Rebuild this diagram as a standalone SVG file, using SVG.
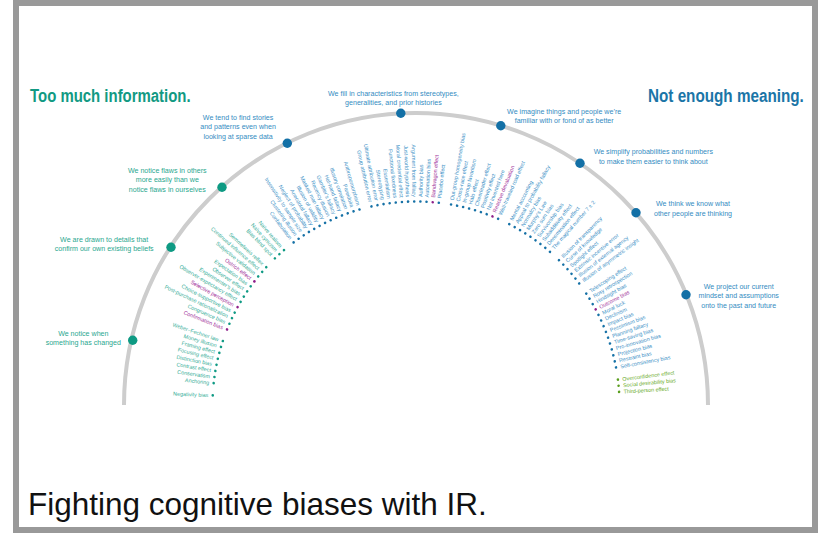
<svg xmlns="http://www.w3.org/2000/svg" width="818" height="533" viewBox="0 0 818 533">
<style>
text{font-family:"Liberation Sans",Arial,sans-serif}
.title{font-weight:bold;font-size:18.5px}
.nl{font-size:7.1px;text-anchor:middle}
.nl.t{fill:#2aa78f}
.nl.b{fill:#348cc2}
.bias text{font-size:5.4px}
.L text{text-anchor:end}
.tl text{fill:#35ad97}.tl circle{fill:#0f9a84}
.bl text{fill:#3c90c6}.bl circle{fill:#1671a6}
.pu text{fill:#a3349c}.pu circle{fill:#8e1f8a}
.gr text{fill:#6aab2b}.gr circle{fill:#5a9e1e}
.nt{fill:#0e9a83}.nb{fill:#1370a6}
</style>
<rect x="16" y="3" width="799" height="527" fill="#fff" stroke="#999" stroke-width="6"/>
<g id="connectors">
<path d="M124 405 A292 292 0 0 1 708 405" fill="none" stroke="#cdcdcd" stroke-width="4"/>
</g>
<g id="titles">
<text class="title" transform="translate(30 102) scale(0.808 1)" fill="#129a83">Too much information.</text>
<text class="title" transform="translate(648 102) scale(0.825 1)" fill="#1b75a7">Not enough meaning.</text>
</g>
<g id="n1"><circle class="nt" cx="132.7" cy="340.3" r="4.7"/><text class="nl t" x="83.3" y="335.8">We notice when</text><text class="nl t" x="83.3" y="344.8">something has changed</text></g>
<g id="n2"><circle class="nt" cx="171" cy="247.3" r="4.7"/><text class="nl t" x="104.2" y="241.8">We are drawn to details that</text><text class="nl t" x="104.2" y="250.8">confirm our own existing beliefs</text></g>
<g id="n3"><circle class="nt" cx="222" cy="187.3" r="4.7"/><text class="nl t" x="167.3" y="173.2">We notice flaws in others</text><text class="nl t" x="167.3" y="182.4">more easily than we</text><text class="nl t" x="167.3" y="191.6">notice flaws in ourselves</text></g>
<g id="n4"><circle class="nb" cx="287.3" cy="143.3" r="4.7"/><text class="nl b" x="238.1" y="120.2">We tend to find stories</text><text class="nl b" x="238.1" y="129.4">and patterns even when</text><text class="nl b" x="238.1" y="138.6">looking at sparse data</text></g>
<g id="n5"><circle class="nb" cx="400.8" cy="113.3" r="4.7"/><text class="nl b" x="393.4" y="95.8">We fill in characteristics from stereotypes,</text><text class="nl b" x="393.4" y="105.2">generalities, and prior histories</text></g>
<g id="n6"><circle class="nb" cx="500.8" cy="125.7" r="4.7"/><text class="nl b" x="564.2" y="114.2">We imagine things and people we’re</text><text class="nl b" x="564.2" y="123.2">familiar with or fond of as better</text></g>
<g id="n7"><circle class="nb" cx="580" cy="163.3" r="4.7"/><text class="nl b" x="653.3" y="154.2">We simplify probabilities and numbers</text><text class="nl b" x="653.3" y="164.2">to make them easier to think about</text></g>
<g id="n8"><circle class="nb" cx="636" cy="212.7" r="4.7"/><text class="nl b" x="693" y="205.8">We think we know what</text><text class="nl b" x="693" y="215.8">other people are thinking</text></g>
<g id="n9"><circle class="nb" cx="686" cy="294.7" r="4.7"/><text class="nl b" x="738.7" y="289.2">We project our current</text><text class="nl b" x="738.7" y="298.4">mindset and assumptions</text><text class="nl b" x="738.7" y="307.6">onto the past and future</text></g>
<g id="biases">
<g id="b00" class="bias L tl" transform="translate(416 405) rotate(2.70)"><circle cx="-203.5" r="1.3"/><text x="-208" y="1.9">Negativity bias</text></g>
<g id="b02" class="bias L tl" transform="translate(416 405) rotate(6.17)"><circle cx="-203.5" r="1.3"/><text x="-208" y="1.9">Anchoring</text></g>
<g id="b03" class="bias L tl" transform="translate(416 405) rotate(7.91)"><circle cx="-203.5" r="1.3"/><text x="-208" y="1.9">Conservatism</text></g>
<g id="b04" class="bias L tl" transform="translate(416 405) rotate(9.64)"><circle cx="-203.5" r="1.3"/><text x="-208" y="1.9">Contrast effect</text></g>
<g id="b05" class="bias L tl" transform="translate(416 405) rotate(11.38)"><circle cx="-203.5" r="1.3"/><text x="-208" y="1.9">Distinction bias</text></g>
<g id="b06" class="bias L tl" transform="translate(416 405) rotate(13.12)"><circle cx="-203.5" r="1.3"/><text x="-208" y="1.9">Focusing effect</text></g>
<g id="b07" class="bias L tl" transform="translate(416 405) rotate(14.85)"><circle cx="-203.5" r="1.3"/><text x="-208" y="1.9">Framing effect</text></g>
<g id="b08" class="bias L tl" transform="translate(416 405) rotate(16.59)"><circle cx="-203.5" r="1.3"/><text x="-208" y="1.9">Money illusion</text></g>
<g id="b09" class="bias L tl" transform="translate(416 405) rotate(18.32)"><circle cx="-203.5" r="1.3"/><text x="-208" y="1.9">Weber–Fechner law</text></g>
<g id="b11" class="bias L pu" transform="translate(416 405) rotate(21.80)"><circle cx="-203.5" r="1.3"/><text x="-208" y="1.9">Confirmation bias</text></g>
<g id="b12" class="bias L tl" transform="translate(416 405) rotate(23.53)"><circle cx="-203.5" r="1.3"/><text x="-208" y="1.9">Congruence bias</text></g>
<g id="b13" class="bias L tl" transform="translate(416 405) rotate(25.27)"><circle cx="-203.5" r="1.3"/><text x="-208" y="1.9">Post-purchase rationalization</text></g>
<g id="b14" class="bias L tl" transform="translate(416 405) rotate(27.00)"><circle cx="-203.5" r="1.3"/><text x="-208" y="1.9">Choice-supportive bias</text></g>
<g id="b15" class="bias L pu" transform="translate(416 405) rotate(28.74)"><circle cx="-203.5" r="1.3"/><text x="-208" y="1.9">Selective perception</text></g>
<g id="b16" class="bias L tl" transform="translate(416 405) rotate(30.48)"><circle cx="-203.5" r="1.3"/><text x="-208" y="1.9">Observer-expectancy effect</text></g>
<g id="b17" class="bias L tl" transform="translate(416 405) rotate(32.21)"><circle cx="-203.5" r="1.3"/><text x="-208" y="1.9">Experimenter’s bias</text></g>
<g id="b18" class="bias L tl" transform="translate(416 405) rotate(33.95)"><circle cx="-203.5" r="1.3"/><text x="-208" y="1.9">Observer effect</text></g>
<g id="b19" class="bias L tl" transform="translate(416 405) rotate(35.68)"><circle cx="-203.5" r="1.3"/><text x="-208" y="1.9">Expectation bias</text></g>
<g id="b20" class="bias L pu" transform="translate(416 405) rotate(37.42)"><circle cx="-203.5" r="1.3"/><text x="-208" y="1.9">Ostrich effect</text></g>
<g id="b21" class="bias L tl" transform="translate(416 405) rotate(39.16)"><circle cx="-203.5" r="1.3"/><text x="-208" y="1.9">Subjective validation</text></g>
<g id="b22" class="bias L tl" transform="translate(416 405) rotate(40.89)"><circle cx="-203.5" r="1.3"/><text x="-208" y="1.9">Continued influence effect</text></g>
<g id="b23" class="bias L tl" transform="translate(416 405) rotate(42.63)"><circle cx="-203.5" r="1.3"/><text x="-208" y="1.9">Semmelweis reflex</text></g>
<g id="b25" class="bias L tl" transform="translate(416 405) rotate(46.10)"><circle cx="-203.5" r="1.3"/><text x="-208" y="1.9">Bias blind spot</text></g>
<g id="b26" class="bias L tl" transform="translate(416 405) rotate(47.84)"><circle cx="-203.5" r="1.3"/><text x="-208" y="1.9">Naïve cynicism</text></g>
<g id="b27" class="bias L tl" transform="translate(416 405) rotate(49.57)"><circle cx="-203.5" r="1.3"/><text x="-208" y="1.9">Naïve realism</text></g>
<g id="b29" class="bias L bl" transform="translate(416 405) rotate(53.04)"><circle cx="-203.5" r="1.3"/><text x="-208" y="1.9">Confabulation</text></g>
<g id="b30" class="bias L bl" transform="translate(416 405) rotate(54.78)"><circle cx="-203.5" r="1.3"/><text x="-208" y="1.9">Clustering illusion</text></g>
<g id="b31" class="bias L bl" transform="translate(416 405) rotate(56.52)"><circle cx="-203.5" r="1.3"/><text x="-208" y="1.9">Insensitivity to sample size</text></g>
<g id="b32" class="bias L bl" transform="translate(416 405) rotate(58.25)"><circle cx="-203.5" r="1.3"/><text x="-208" y="1.9">Neglect of probability</text></g>
<g id="b33" class="bias L bl" transform="translate(416 405) rotate(59.99)"><circle cx="-203.5" r="1.3"/><text x="-208" y="1.9">Anecdotal fallacy</text></g>
<g id="b34" class="bias L bl" transform="translate(416 405) rotate(61.72)"><circle cx="-203.5" r="1.3"/><text x="-208" y="1.9">Illusion of validity</text></g>
<g id="b35" class="bias L bl" transform="translate(416 405) rotate(63.46)"><circle cx="-203.5" r="1.3"/><text x="-208" y="1.9">Masked man fallacy</text></g>
<g id="b36" class="bias L bl" transform="translate(416 405) rotate(65.20)"><circle cx="-203.5" r="1.3"/><text x="-208" y="1.9">Recency illusion</text></g>
<g id="b37" class="bias L bl" transform="translate(416 405) rotate(66.93)"><circle cx="-203.5" r="1.3"/><text x="-208" y="1.9">Gambler’s fallacy</text></g>
<g id="b38" class="bias L bl" transform="translate(416 405) rotate(68.67)"><circle cx="-203.5" r="1.3"/><text x="-208" y="1.9">Hot-hand fallacy</text></g>
<g id="b39" class="bias L bl" transform="translate(416 405) rotate(70.40)"><circle cx="-203.5" r="1.3"/><text x="-208" y="1.9">Illusory correlation</text></g>
<g id="b40" class="bias L bl" transform="translate(416 405) rotate(72.14)"><circle cx="-203.5" r="1.3"/><text x="-208" y="1.9">Pareidolia</text></g>
<g id="b41" class="bias L bl" transform="translate(416 405) rotate(73.88)"><circle cx="-203.5" r="1.3"/><text x="-208" y="1.9">Anthropomorphism</text></g>
<g id="b43" class="bias L bl" transform="translate(416 405) rotate(77.35)"><circle cx="-203.5" r="1.3"/><text x="-208" y="1.9">Group attribution error</text></g>
<g id="b44" class="bias L bl" transform="translate(416 405) rotate(79.08)"><circle cx="-203.5" r="1.3"/><text x="-208" y="1.9">Ultimate attribution error</text></g>
<g id="b45" class="bias L bl" transform="translate(416 405) rotate(80.82)"><circle cx="-203.5" r="1.3"/><text x="-208" y="1.9">Stereotyping</text></g>
<g id="b46" class="bias L bl" transform="translate(416 405) rotate(82.56)"><circle cx="-203.5" r="1.3"/><text x="-208" y="1.9">Essentialism</text></g>
<g id="b47" class="bias L bl" transform="translate(416 405) rotate(84.29)"><circle cx="-203.5" r="1.3"/><text x="-208" y="1.9">Functional fixedness</text></g>
<g id="b48" class="bias L bl" transform="translate(416 405) rotate(86.03)"><circle cx="-203.5" r="1.3"/><text x="-208" y="1.9">Moral credential effect</text></g>
<g id="b49" class="bias L bl" transform="translate(416 405) rotate(87.76)"><circle cx="-203.5" r="1.3"/><text x="-208" y="1.9">Just-world hypothesis</text></g>
<g id="b50" class="bias L bl" transform="translate(416 405) rotate(89.50)"><circle cx="-203.5" r="1.3"/><text x="-208" y="1.9">Argument from fallacy</text></g>
<g id="b51" class="bias bl" transform="translate(416 405) rotate(-88.76)"><circle cx="203.5" r="1.3"/><text x="208" y="1.9">Authority bias</text></g>
<g id="b52" class="bias bl" transform="translate(416 405) rotate(-87.03)"><circle cx="203.5" r="1.3"/><text x="208" y="1.9">Automation bias</text></g>
<g id="b53" class="bias pu" transform="translate(416 405) rotate(-85.29)"><circle cx="203.5" r="1.3"/><text x="208" y="1.9">Bandwagon effect</text></g>
<g id="b54" class="bias bl" transform="translate(416 405) rotate(-83.56)"><circle cx="203.5" r="1.3"/><text x="208" y="1.9">Placebo effect</text></g>
<g id="b56" class="bias bl" transform="translate(416 405) rotate(-80.08)"><circle cx="203.5" r="1.3"/><text x="208" y="1.9">Out-group homogeneity bias</text></g>
<g id="b57" class="bias bl" transform="translate(416 405) rotate(-78.35)"><circle cx="203.5" r="1.3"/><text x="208" y="1.9">Cross-race effect</text></g>
<g id="b58" class="bias bl" transform="translate(416 405) rotate(-76.61)"><circle cx="203.5" r="1.3"/><text x="208" y="1.9">In-group favoritism</text></g>
<g id="b59" class="bias bl" transform="translate(416 405) rotate(-74.88)"><circle cx="203.5" r="1.3"/><text x="208" y="1.9">Halo effect</text></g>
<g id="b60" class="bias bl" transform="translate(416 405) rotate(-73.14)"><circle cx="203.5" r="1.3"/><text x="208" y="1.9">Cheerleader effect</text></g>
<g id="b61" class="bias bl" transform="translate(416 405) rotate(-71.40)"><circle cx="203.5" r="1.3"/><text x="208" y="1.9">Positivity effect</text></g>
<g id="b62" class="bias bl" transform="translate(416 405) rotate(-69.67)"><circle cx="203.5" r="1.3"/><text x="208" y="1.9">Not invented here</text></g>
<g id="b63" class="bias pu" transform="translate(416 405) rotate(-67.93)"><circle cx="203.5" r="1.3"/><text x="208" y="1.9">Reactive devaluation</text></g>
<g id="b64" class="bias bl" transform="translate(416 405) rotate(-66.20)"><circle cx="203.5" r="1.3"/><text x="208" y="1.9">Well-traveled road effect</text></g>
<g id="b66" class="bias bl" transform="translate(416 405) rotate(-62.72)"><circle cx="203.5" r="1.3"/><text x="208" y="1.9">Mental accounting</text></g>
<g id="b67" class="bias bl" transform="translate(416 405) rotate(-60.99)"><circle cx="203.5" r="1.3"/><text x="208" y="1.9">Appeal to probability fallacy</text></g>
<g id="b68" class="bias bl" transform="translate(416 405) rotate(-59.25)"><circle cx="203.5" r="1.3"/><text x="208" y="1.9">Normalcy bias</text></g>
<g id="b69" class="bias bl" transform="translate(416 405) rotate(-57.52)"><circle cx="203.5" r="1.3"/><text x="208" y="1.9">Murphy’s Law</text></g>
<g id="b70" class="bias bl" transform="translate(416 405) rotate(-55.78)"><circle cx="203.5" r="1.3"/><text x="208" y="1.9">Zero sum bias</text></g>
<g id="b71" class="bias bl" transform="translate(416 405) rotate(-54.04)"><circle cx="203.5" r="1.3"/><text x="208" y="1.9">Survivorship bias</text></g>
<g id="b72" class="bias bl" transform="translate(416 405) rotate(-52.31)"><circle cx="203.5" r="1.3"/><text x="208" y="1.9">Subadditivity effect</text></g>
<g id="b73" class="bias bl" transform="translate(416 405) rotate(-50.57)"><circle cx="203.5" r="1.3"/><text x="208" y="1.9">Denomination effect</text></g>
<g id="b74" class="bias bl" transform="translate(416 405) rotate(-48.84)"><circle cx="203.5" r="1.3"/><text x="208" y="1.9">The magical number 7 ± 2</text></g>
<g id="b76" class="bias bl" transform="translate(416 405) rotate(-45.36)"><circle cx="203.5" r="1.3"/><text x="208" y="1.9">Illusion of transparency</text></g>
<g id="b77" class="bias bl" transform="translate(416 405) rotate(-43.63)"><circle cx="203.5" r="1.3"/><text x="208" y="1.9">Curse of knowledge</text></g>
<g id="b78" class="bias bl" transform="translate(416 405) rotate(-41.89)"><circle cx="203.5" r="1.3"/><text x="208" y="1.9">Spotlight effect</text></g>
<g id="b79" class="bias bl" transform="translate(416 405) rotate(-40.16)"><circle cx="203.5" r="1.3"/><text x="208" y="1.9">Extrinsic incentive error</text></g>
<g id="b80" class="bias bl" transform="translate(416 405) rotate(-38.42)"><circle cx="203.5" r="1.3"/><text x="208" y="1.9">Illusion of external agency</text></g>
<g id="b81" class="bias bl" transform="translate(416 405) rotate(-36.68)"><circle cx="203.5" r="1.3"/><text x="208" y="1.9">Illusion of asymmetric insight</text></g>
<g id="b83" class="bias bl" transform="translate(416 405) rotate(-33.21)"><circle cx="203.5" r="1.3"/><text x="208" y="1.9">Telescoping effect</text></g>
<g id="b84" class="bias bl" transform="translate(416 405) rotate(-31.48)"><circle cx="203.5" r="1.3"/><text x="208" y="1.9">Rosy retrospection</text></g>
<g id="b85" class="bias bl" transform="translate(416 405) rotate(-29.74)"><circle cx="203.5" r="1.3"/><text x="208" y="1.9">Hindsight bias</text></g>
<g id="b86" class="bias pu" transform="translate(416 405) rotate(-28.00)"><circle cx="203.5" r="1.3"/><text x="208" y="1.9">Outcome bias</text></g>
<g id="b87" class="bias bl" transform="translate(416 405) rotate(-26.27)"><circle cx="203.5" r="1.3"/><text x="208" y="1.9">Moral luck</text></g>
<g id="b88" class="bias bl" transform="translate(416 405) rotate(-24.53)"><circle cx="203.5" r="1.3"/><text x="208" y="1.9">Declinism</text></g>
<g id="b89" class="bias bl" transform="translate(416 405) rotate(-22.80)"><circle cx="203.5" r="1.3"/><text x="208" y="1.9">Impact bias</text></g>
<g id="b90" class="bias bl" transform="translate(416 405) rotate(-21.06)"><circle cx="203.5" r="1.3"/><text x="208" y="1.9">Pessimism bias</text></g>
<g id="b91" class="bias bl" transform="translate(416 405) rotate(-19.32)"><circle cx="203.5" r="1.3"/><text x="208" y="1.9">Planning fallacy</text></g>
<g id="b92" class="bias bl" transform="translate(416 405) rotate(-17.59)"><circle cx="203.5" r="1.3"/><text x="208" y="1.9">Time-saving bias</text></g>
<g id="b93" class="bias bl" transform="translate(416 405) rotate(-15.85)"><circle cx="203.5" r="1.3"/><text x="208" y="1.9">Pro-innovation bias</text></g>
<g id="b94" class="bias bl" transform="translate(416 405) rotate(-14.12)"><circle cx="203.5" r="1.3"/><text x="208" y="1.9">Projection bias</text></g>
<g id="b95" class="bias bl" transform="translate(416 405) rotate(-12.38)"><circle cx="203.5" r="1.3"/><text x="208" y="1.9">Restraint bias</text></g>
<g id="b96" class="bias bl" transform="translate(416 405) rotate(-10.64)"><circle cx="203.5" r="1.3"/><text x="208" y="1.9">Self-consistency bias</text></g>
<g id="b98" class="bias gr" transform="translate(416 405) rotate(-7.17)"><circle cx="203.5" r="1.3"/><text x="208" y="1.9">Overconfidence effect</text></g>
<g id="b99" class="bias gr" transform="translate(416 405) rotate(-5.44)"><circle cx="203.5" r="1.3"/><text x="208" y="1.9">Social desirability bias</text></g>
<g id="b100" class="bias gr" transform="translate(416 405) rotate(-3.70)"><circle cx="203.5" r="1.3"/><text x="208" y="1.9">Third-person effect</text></g>
</g>
<text id="caption" x="28" y="515" font-size="31.5" fill="#111">Fighting cognitive biases with IR.</text>
</svg>
